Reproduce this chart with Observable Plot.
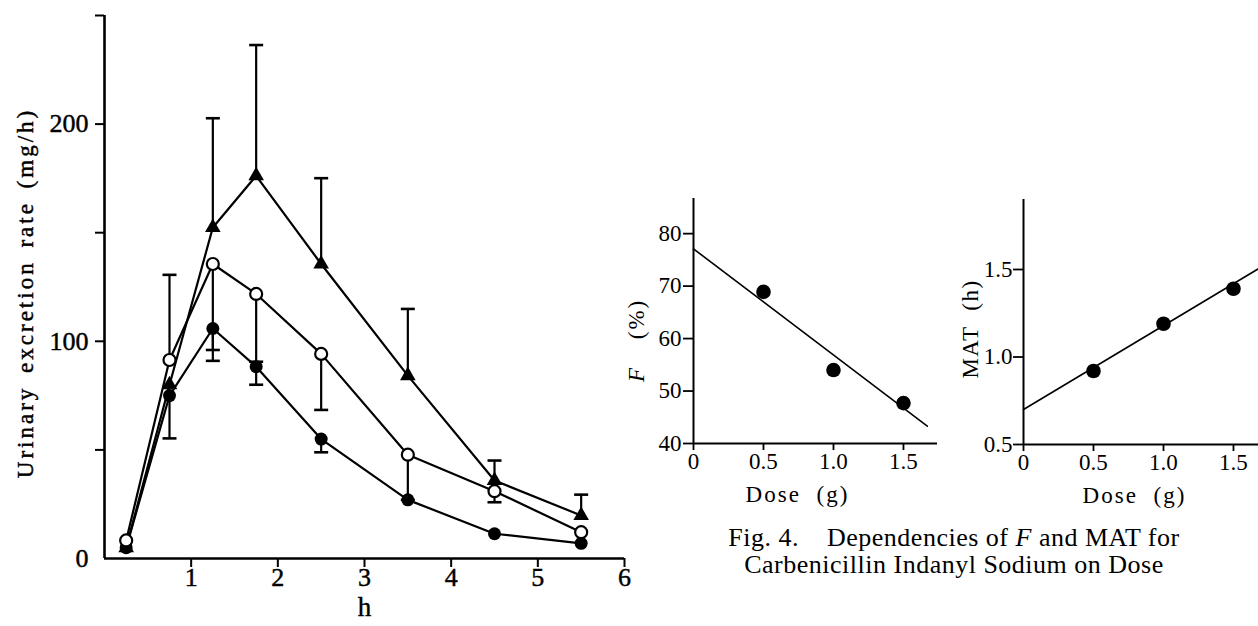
<!DOCTYPE html>
<html>
<head>
<meta charset="utf-8">
<script src="https://cdn.jsdelivr.net/npm/d3@7"></script>
<script src="https://cdn.jsdelivr.net/npm/@observablehq/plot@0.6"></script>
<style>
  html, body { margin: 0; padding: 0; background: #fff; }
  body { width: 1258px; height: 626px; overflow: hidden; position: relative; font-family: "Liberation Serif", serif; }
  .panel { position: absolute; }
  .panel svg { overflow: visible; max-width: none !important; }
  #main text { stroke: #000; stroke-width: 0.45px; }
  #caption { position: absolute; left: 654px; width: 600px; top: 524px; text-align: center;
             font-family: "Liberation Serif", serif; font-size: 26px; line-height: 27px; color: #000; letter-spacing: 0.5px; white-space: nowrap; }
  #caption .gap { display: inline-block; width: 28px; }
</style>
</head>
<body>
<div id="main" class="panel" style="left:0px;top:0px;width:660px"></div>
<div id="fpanel" class="panel" style="left:600px;top:150px;width:357px"></div>
<div id="mpanel" class="panel" style="left:930px;top:150px;width:357px"></div>
<div id="caption">Fig. 4.<span class="gap"></span>Dependencies of <i>F</i> and MAT for<br>Carbenicillin Indanyl Sodium on Dose</div>
<script>
// ---- Left chart: urinary excretion rate vs time ----
const hours = [0.25, 0.75, 1.25, 1.75, 2.5, 3.5, 4.5, 5.5];
const rateTriangle = [5, 80, 152.4, 176.2, 135.6, 84.2, 35.9, 19.8];
const rateFilled   = [5, 75, 105.9, 88.3, 55, 27, 11.4, 7];
const rateOpen     = [8.3, 91.4, 135.6, 121.8, 94.2, 47.8, 31.0, 12.1];

// error bars: time, start (mean), end (bar tip)
const errHours = [0.75, 0.75, 1.25, 1.25, 1.25, 1.75, 1.75, 1.75, 2.5, 2.5, 2.5, 3.5, 3.5, 4.5, 4.5, 5.5];
const errFrom  = [91.4, 75, 152.4, 135.6, 105.9, 176.2, 121.8, 88.3, 135.6, 94.2, 55, 84.2, 47.8, 35.9, 31.0, 19.8];
const errTo    = [130.6, 55.3, 202.7, 91.0, 96.0, 236.4, 80.0, 90.6, 175.1, 68.4, 48.9, 114.9, 27.0, 45.1, 25.9, 29.4];

const mainXTicks = [1, 2, 3, 4, 5, 6];
const mainYTicks = [50, 100, 150, 200, 250];
const mainYLabels = [0, 100, 200];
const mainYTitle = "Urinary excretion rate (mg/h)";
const mainXTitle = "h";

// ---- Right charts: F and MAT vs dose ----
const doses = [0.5, 1.0, 1.5];
const fValues = [68.9, 54.0, 47.7];
const fFitDose = [0, 1.67];
const fFitValue = [77.1, 43.3];
const matValues = [0.92, 1.19, 1.39];
const matFitDose = [0, 1.7];
const matFitValue = [0.70, 1.515];
const doseTicks = [0, 0.5, 1.0, 1.5];
const fTicks = [40, 50, 60, 70, 80];
const matTicks = [0.5, 1.0, 1.5];
const doseTitle = "Dose (g)";
const matTitle = "MAT (h)";

// ---- build tables ----
const seriesList = [
  {name: "triangle", values: rateTriangle},
  {name: "filled", values: rateFilled},
  {name: "open", values: rateOpen}
];
const rows = seriesList.flatMap(s => hours.map((h, i) => ({series: s.name, h, rate: s.values[i]})));
const errs = errHours.map((h, i) => ({h, from: errFrom[i], to: errTo[i]}));
const capSymbol = {
  draw(ctx, size) {
    const w = Math.sqrt(size / Math.PI);
    ctx.moveTo(-w, 0);
    ctx.lineTo(w, 0);
  }
};
const font = "Liberation Serif";

function styleText(svg, content, styles) {
  d3.select(svg).selectAll("text")
    .filter(function () { return this.textContent === content; })
    .each(function () {
      const s = d3.select(this);
      for (const k in styles) s.style(k, styles[k]);
    });
}

const main = Plot.plot({
  width: 660, height: 626,
  marginLeft: 104, marginRight: 36, marginTop: 15, marginBottom: 68,
  x: {domain: [0, 6]},
  y: {domain: [0, 250]},
  style: {fontFamily: font, fontSize: "26px", color: "black", background: "transparent"},
  marks: [
    Plot.ruleX([0], {stroke: "black", strokeWidth: 2.6}),
    Plot.ruleY([0], {stroke: "black", strokeWidth: 2.6}),
    Plot.axisX({ticks: mainXTicks, tickSize: 9, tickPadding: 0, tickFormat: d => String(d), label: null, strokeWidth: 2}),
    Plot.axisY({ticks: mainYTicks, tickSize: 9, tickFormat: () => "", label: null, strokeWidth: 2}),
    Plot.axisY({ticks: mainYLabels, tickSize: 0, tickPadding: 16, tickFormat: d => String(d), label: null}),
    Plot.line(rows, {x: "h", y: "rate", z: "series", stroke: "black", strokeWidth: 2.2}),
    Plot.ruleX(errs, {x: "h", y1: "from", y2: "to", stroke: "black", strokeWidth: 2.2}),
    Plot.dot(errs, {x: "h", y: "to", symbol: capSymbol, r: 7, stroke: "black", strokeWidth: 2.6}),
    Plot.dot(rows.filter(d => d.series === "triangle"), {x: "h", y: "rate", symbol: "triangle", r: 5.8, fill: "black"}),
    Plot.dot(rows.filter(d => d.series === "filled"), {x: "h", y: "rate", r: 6.5, fill: "black"}),
    Plot.dot(rows.filter(d => d.series === "open"), {x: "h", y: "rate", r: 6, fill: "white", stroke: "black", strokeWidth: 2.2}),
    Plot.text([mainYTitle], {frameAnchor: "left", textAnchor: "middle", lineAnchor: "middle", dx: -79, dy: 6, rotate: -90, fontSize: 23}),
    Plot.text([mainXTitle], {frameAnchor: "bottom", textAnchor: "middle", lineAnchor: "middle", dy: 49, fontSize: 27})
  ]
});
document.getElementById("main").appendChild(main);
styleText(main, mainYTitle, {"letter-spacing": "3px", "word-spacing": "4px"});

const fmtDose = d => d === 0 ? "0" : d.toFixed(1);

const fRows = doses.map((d, i) => ({dose: d, value: fValues[i]}));
const fFit = fFitDose.map((d, i) => ({dose: d, value: fFitValue[i]}));
const fPanel = Plot.plot({
  width: 357, height: 363,
  marginLeft: 93, marginRight: 20, marginTop: 48, marginBottom: 70,
  x: {domain: [0, 1.743]},
  y: {domain: [40, 86.7]},
  style: {fontFamily: font, fontSize: "23px", color: "black", background: "transparent"},
  marks: [
    Plot.ruleX([0], {stroke: "black", strokeWidth: 2}),
    Plot.ruleY([40], {stroke: "black", strokeWidth: 2}),
    Plot.axisX({ticks: doseTicks, tickSize: 7, tickPadding: 2, tickFormat: fmtDose, label: null, strokeWidth: 1.8}),
    Plot.axisY({ticks: fTicks, tickSize: 10, tickPadding: 2, tickFormat: d => String(d), label: null, strokeWidth: 1.8}),
    Plot.line(fFit, {x: "dose", y: "value", stroke: "black", strokeWidth: 1.6}),
    Plot.dot(fRows, {x: "dose", y: "value", r: 7.3, fill: "black"}),
    Plot.text(["F"], {frameAnchor: "left", textAnchor: "middle", lineAnchor: "middle", dx: -57, dy: 54, rotate: -90, fontStyle: "italic", fontSize: 23}),
    Plot.text(["(%)"], {frameAnchor: "left", textAnchor: "middle", lineAnchor: "middle", dx: -57, dy: -2, rotate: -90, fontSize: 23}),
    Plot.text([doseTitle], {frameAnchor: "bottom", textAnchor: "middle", lineAnchor: "middle", dx: -18, dy: 51, fontSize: 23})
  ]
});
document.getElementById("fpanel").appendChild(fPanel);
styleText(fPanel, "(%)", {"letter-spacing": "2px"});
styleText(fPanel, doseTitle, {"letter-spacing": "2px", "word-spacing": "8px"});

const mRows = doses.map((d, i) => ({dose: d, value: matValues[i]}));
const mFit = matFitDose.map((d, i) => ({dose: d, value: matFitValue[i]}));
const mPanel = Plot.plot({
  width: 357, height: 364,
  marginLeft: 93, marginRight: 20, marginTop: 49, marginBottom: 70,
  x: {domain: [0, 1.743]},
  y: {domain: [0.5, 1.9]},
  style: {fontFamily: font, fontSize: "23px", color: "black", background: "transparent"},
  marks: [
    Plot.ruleX([0], {stroke: "black", strokeWidth: 2}),
    Plot.ruleY([0.5], {stroke: "black", strokeWidth: 2}),
    Plot.axisX({ticks: doseTicks, tickSize: 7, tickPadding: 2, tickFormat: fmtDose, label: null, strokeWidth: 1.8}),
    Plot.axisY({ticks: matTicks, tickSize: 10, tickPadding: 1, tickFormat: d => d.toFixed(1), label: null, strokeWidth: 1.8}),
    Plot.line(mFit, {x: "dose", y: "value", stroke: "black", strokeWidth: 1.6}),
    Plot.dot(mRows, {x: "dose", y: "value", r: 7.3, fill: "black"}),
    Plot.text([matTitle], {frameAnchor: "left", textAnchor: "middle", lineAnchor: "middle", dx: -53, dy: 7, rotate: -90, fontSize: 23}),
    Plot.text([doseTitle], {frameAnchor: "bottom", textAnchor: "middle", lineAnchor: "middle", dx: -11, dy: 51, fontSize: 23})
  ]
});
document.getElementById("mpanel").appendChild(mPanel);
styleText(mPanel, matTitle, {"letter-spacing": "1.5px", "word-spacing": "8px"});
styleText(mPanel, doseTitle, {"letter-spacing": "2px", "word-spacing": "8px"});
</script>
</body>
</html>
